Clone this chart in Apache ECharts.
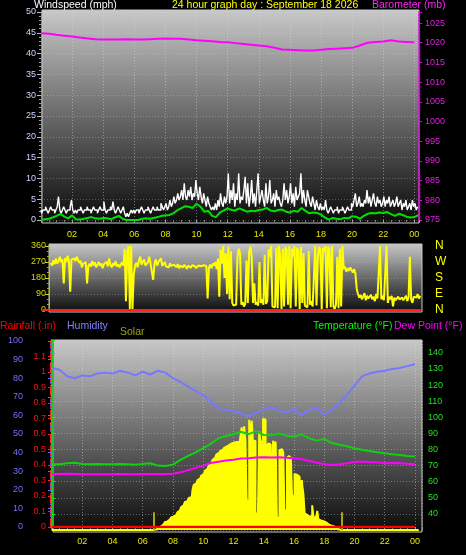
<!DOCTYPE html>
<html><head><meta charset="utf-8">
<script src="https://cdn.jsdelivr.net/npm/echarts@6/dist/echarts.min.js"></script>
<style>html,body{margin:0;padding:0;background:#000;}#c{width:466px;height:555px;}</style>
</head><body><div id="c"></div>
<script>
// ---- DATA (hours of day) ----
// wind gust (mph), every 5 min from 00:00
const gust = [
2.4,1.6,2.4,2.4,3.2,2.4,1.6,2.4,3.2,2.4,2.4,1.6,
2.4,3.2,5.6,2.4,1.6,2.4,3.2,2.4,1.6,2.4,2.4,3.2,
4.8,2.4,1.6,2.4,1.6,2.4,2.4,3.2,2.4,1.6,2.4,2.4,
3.2,2.4,2.4,1.6,2.4,3.2,2.4,2.4,1.6,2.4,3.2,2.4,
2.4,4.4,2.4,1.6,2.4,2.4,3.2,2.4,4.4,2.4,1.6,2.4,
3.2,2.4,1.6,2.4,3.2,1.6,0.8,1.6,0.8,1.6,2.4,1.6,
2.4,1.6,2.4,2.4,1.6,2.4,3.2,2.4,1.6,2.4,2.4,3.2,
2.4,1.6,2.4,3.2,2.4,2.4,3.2,2.4,2.4,4.0,3.2,2.4,
3.2,4.0,2.4,3.2,4.8,3.2,4.0,5.6,4.0,4.8,6.4,4.8,
5.6,7.2,4.8,8.8,5.6,4.8,7.2,5.6,8.0,4.8,6.4,5.6,
9.6,6.4,4.8,8.0,5.6,4.0,6.4,4.8,3.2,5.6,4.0,3.2,
2.4,3.2,2.4,4.0,2.4,4.8,3.2,6.4,4.0,3.2,5.6,4.0,
5.6,11.2,4.0,7.2,4.8,8.8,3.2,6.4,4.8,11.2,4.0,5.6,
4.8,7.2,10.4,4.0,8.8,3.2,5.6,9.6,4.0,6.4,3.2,7.2,
11.2,4.0,5.6,7.2,4.8,3.2,8.8,4.0,5.6,9.6,4.0,4.8,
6.4,3.2,7.2,4.8,5.6,4.0,3.2,4.8,8.8,4.8,7.2,4.0,
5.6,8.8,4.0,6.4,3.2,8.0,4.8,5.6,6.4,11.2,4.0,7.2,
4.8,3.2,7.2,5.6,4.0,3.2,5.6,4.0,2.4,4.8,3.2,2.4,
4.0,2.4,3.2,2.4,4.8,2.4,1.6,2.4,3.2,2.4,1.6,2.4,
2.4,3.2,1.6,2.4,2.4,3.2,2.4,1.6,2.4,3.2,2.4,2.4,
4.0,3.2,4.8,6.4,3.2,4.0,5.6,3.2,4.0,3.2,4.8,4.0,
7.2,4.0,5.6,3.2,4.8,6.4,4.0,3.2,5.6,4.0,4.8,3.2,
4.0,5.6,3.2,4.8,4.0,5.6,3.2,4.0,4.8,3.2,4.0,5.6,
3.2,4.0,4.8,2.4,4.0,3.2,4.8,2.4,3.2,4.0,2.4,4.8,
3.2,4.0,2.4,3.2];
// average wind (mph), every 15 min from 00:00
const windAvg = [
0.0,0.2,0.3,0.6, 1.0,1.5,0.8,0.4, 1.1,0.2,0.1,0.3, 0.5,0.7,0.4,0.3,
0.5,0.4,0.2,0.6, 1.0,0.3,0.0,0.0, 0.0,0.0,0.3,0.4, 0.3,0.5,0.7,1.0,
1.1,1.2,1.6,2.3, 2.8,3.3,3.2,2.9, 3.9,3.2,2.0,2.2, 1.0,0.7,1.8,2.3,
2.8,2.4,2.3,2.8, 2.4,2.0,2.2,2.1, 2.4,2.5,2.9,2.3, 2.1,2.4,2.5,2.0,
1.8,2.2,2.0,2.9, 2.2,1.6,1.8,1.7, 1.3,0.6,0.1,0.5, 0.3,0.2,0.5,0.4,
0.9,0.8,0.3,1.0, 1.5,1.7,1.6,1.8, 1.7,1.9,1.4,1.0, 1.5,1.2,0.8,0.6,
0.7,1.2];
// barometer (mb), every 30 min from 00:00
const baro = [
1022.4,1022.3,1022.0,1021.8,1021.6,1021.3,1021.1,1020.9,1020.8,1020.8,
1020.8,1020.9,1020.8,1020.8,1020.9,1021.0,1021.1,1021.0,1021.0,1020.8,
1020.6,1020.5,1020.4,1020.2,1020.1,1019.9,1019.7,1019.5,1019.3,1019.1,
1018.7,1018.3,1018.2,1018.1,1018.0,1018.0,1018.2,1018.4,1018.5,1018.6,
1018.7,1019.3,1020.0,1020.2,1020.3,1020.6,1020.3,1020.2,1020.1];
// wind direction (deg), every 5 min from 00:30
const dirStart = 0.5;
const windDir = [
265,250,280,258,290,262,
275,300,268,285,150,292,270,305,280,103,285,295,
290,275,300,282,265,278,240,260,255,270,150,248,
260,245,275,250,268,240,255,270,248,262,235,258,
250,272,245,290,255,240,262,250,275,245,258,240,
255,268,250,345,50,330,360,5,360,0,200,250,
265,240,280,300,255,262,285,250,245,270,300,258,
268,170,260,285,250,270,262,290,248,255,270,245,
252,240,262,248,238,255,245,242,258,235,250,245,
240,255,248,232,250,245,238,252,242,248,236,245,
250,240,246,238,252,244,248,65,240,255,235,262,
250,270,230,290,75,340,260,360,180,320,90,355,
60,330,40,25,35,30,300,345,320,30,45,20,
35,280,40,330,355,300,40,150,30,45,25,270,
40,60,30,310,35,50,340,300,360,20,30,15,
350,10,360,300,5,345,20,355,340,30,360,10,
345,300,360,20,350,330,5,355,40,320,25,20,
15,330,30,50,20,10,360,25,300,355,340,5,
350,330,360,10,355,340,15,360,20,5,30,300,
10,345,20,360,230,245,215,235,220,240,225,210,
230,205,120,90,70,85,60,75,95,55,80,65,
70,85,60,75,50,90,65,70,360,60,80,55,
65,360,40,75,60,80,20,70,55,65,75,60,
60,70,55,65,80,50,70,300,60,40,75,85,
70,90,65,80];
const compassLabels = ['N','E','S','W','N'];
// humidity (%), temperature and dew point (°F), every 30 min from 00:00
const humidity = [
85.5,84.5,81,80,81.5,81,82.5,83,82.5,84,83,81.5,83.5,82,84,83,80,78,75.5,73,
71,67.5,63.5,63,62.5,61,59.5,61.5,63,64.5,62.5,61.5,63.5,60,63,64,60.5,63,66.5,71,
76,81,82.5,83.5,84,85,85.5,86.5,87.5];
const temperature = [
70.9,70.9,71.5,71.8,71.0,70.8,71.0,70.9,70.8,71.0,70.9,70.6,71.0,71.5,70.0,69.8,70.6,73.5,76.0,78.2,
80.8,83.5,87.0,88.4,89.5,91.0,89.5,91.4,89.0,88.8,90.0,88.6,88.0,89.4,87.0,85.5,86.6,84.0,83.0,82.0,
80.8,79.8,79.0,78.3,77.6,77.0,76.6,76.0,75.6];
const dewPoint = [
64.8,64.8,65.0,64.8,64.6,64.6,64.7,64.6,64.6,64.8,64.7,64.6,64.8,64.8,64.8,64.8,65.0,65.8,67.2,68.6,
70.0,71.6,72.4,73.1,73.6,74.4,74.6,75.0,75.2,75.0,75.2,74.8,74.5,74.0,73.0,71.8,71.0,70.4,70.8,71.5,
72.3,72.5,72.2,72.0,71.5,71.6,71.5,71.2,70.9];
// rainfall (in), hourly
const rainfall = [0,0,0,0,0,0,0,0,0,0,0,0,0,0,0,0,0,0,0,0,0,0,0,0,0];
// solar, every 5 min from 06:30 (zero at night)
const solarStart = 6.5;
const solar = [
0,0,0,0,2,5,
10,14,19,24,29,35,41,45,50,55,60,66,
70,74,78,85,93,102,112,121,130,140,148,152,
160,168,172,150,210,238,245,255,262,270,278,286,
294,302,312,322,332,342,352,362,370,380,390,398,
405,410,416,421,426,432,438,442,447,451,455,458,
458,460,462,463,464,465,466,540,466,545,468,155,
150,580,470,575,465,470,90,85,120,518,460,470,
585,580,45,440,455,450,458,200,470,430,465,60,
70,420,425,415,410,104,100,380,390,370,385,180,
180,295,290,300,280,250,260,240,190,88,80,75,
72,70,74,130,68,70,65,100,55,50,48,46,
44,40,36,33,30,27,24,20,16,12,8,5,
3,1,0,0,0,0,0];
const solarNight = [[0,0],[24.25,0]];
const sunMarks = [[6.75,93],[19.15,93]];

// ---- CHART ----
const F = '"Liberation Sans", Arial, sans-serif';
const T = (arr, start, step) => arr.map((v,i)=>[+(start+i*step).toFixed(4), v]);
const step5 = 5/60;
const xFmt = v => { const r = Math.round(v); return (Math.abs(v-r)<1e-6 && r>0 && r%2===0) ? String(r%24).padStart(2,'0') : ''; };
const grad = () => new echarts.graphic.LinearGradient(0,0,0,1,[{offset:0,color:'#c8c8c8'},{offset:1,color:'#0a0a0a'}]);
const dotted = (c,o) => ({show:true,lineStyle:{color:c,opacity:o,type:[1,2],width:1}});

const chart = echarts.init(document.getElementById('c'), null, {renderer:'canvas'});
const xCommon = (gi, max, showLab) => ({
  gridIndex:gi, type:'value', min:0, max:max, interval:2,
  axisLine:{show:false},
  axisTick:{show:showLab,length:3,lineStyle:{color:'#a0a0a0'}},
  minorTick:{show:showLab,splitNumber:4,length:2,lineStyle:{color:'#808080'}},
  axisLabel:{show:showLab,color:'#e8e800',fontSize:9,fontFamily:F,margin:10,formatter:xFmt,showMaxLabel:false,showMinLabel:false},
  splitLine: showLab ? dotted('#e0e0e0',0.45) : {show:false}
});

const option = {
  backgroundColor:'#000',
  animation:false,
  grid:[
    {left:41, top:12, width:378, height:208},
    {left:43, top:246, width:378, height:64},
    {left:52, top:341, width:370, height:186},
    {left:52, top:340, width:370, height:190}
  ],
  xAxis:[ xCommon(0,24.3,true), xCommon(1,24.3,false), xCommon(2,24.47,true), xCommon(3,24.47,false) ],
  yAxis:[
    {gridIndex:0, type:'value', position:'left', min:0, max:50, interval:5,
     axisLine:{show:true,lineStyle:{color:'#909090',type:'dotted'}},
     axisTick:{show:true,length:4,lineStyle:{color:'#c0c0c0'}},
     minorTick:{show:true,splitNumber:5,length:2,lineStyle:{color:'#a0a0a0'}},
     axisLabel:{color:'#c8d8ff',fontSize:9,fontFamily:F,margin:5},
     splitLine:dotted('#e0e0e0',0.3)},
    {gridIndex:0, type:'value', position:'right', min:975, max:1027.8, interval:5,
     axisLine:{show:true,lineStyle:{color:'#d000d0',type:'dotted',width:1.5}},
     axisTick:{show:true,length:3,lineStyle:{color:'#e000e0'}},
     minorTick:{show:true,splitNumber:5,length:1.5,lineStyle:{color:'#c000c0'}},
     axisLabel:{color:'#e020e0',fontSize:9,fontFamily:F,margin:6,showMaxLabel:false,
       formatter:v=>(Math.abs(v%5)<1e-6?String(v):'')},
     splitLine:{show:false}},
    {gridIndex:1, type:'value', position:'left', offset:-6, min:0, max:360, interval:90,
     axisLine:{show:true,lineStyle:{color:'#c8c800',type:'dotted'}},
     axisTick:{show:true,length:4,lineStyle:{color:'#d8d800'}},
     minorTick:{show:true,splitNumber:3,length:2,lineStyle:{color:'#b0b000'}},
     axisLabel:{color:'#d8d800',fontSize:9,fontFamily:F,margin:3},
     splitLine:dotted('#c0c0c0',0.35)},
    {gridIndex:1, type:'value', position:'right', min:0, max:360, interval:90,
     axisLine:{show:false}, axisTick:{show:false}, splitLine:{show:false},
     axisLabel:{color:'#ffff00',fontSize:12,fontFamily:F,margin:14,formatter:v=>compassLabels[Math.round(v/90)]||''}},
    {gridIndex:2, type:'value', position:'left', offset:22, min:0, max:100, interval:10,
     axisLine:{show:true,lineStyle:{color:'#6868ff',width:2.5}},
     axisTick:{show:true,length:4,lineStyle:{color:'#6868ff'}},
     minorTick:{show:true,splitNumber:5,length:2,lineStyle:{color:'#6868ff'}},
     axisLabel:{color:'#7070ff',fontSize:9,fontFamily:F,margin:7},
     splitLine:{show:false}},
    {gridIndex:2, type:'value', position:'left', offset:1, min:0, max:1.2, interval:0.1,
     axisLine:{show:true,lineStyle:{color:'#ff2020',type:'dashed',width:2}},
     axisTick:{show:true,length:3,lineStyle:{color:'#ff2020'}},
     axisLabel:{color:'#ff1010',fontSize:9,fontFamily:F,margin:5,showMaxLabel:false,
       formatter:v=>String(+v.toFixed(1))},
     splitLine:{show:false}},
    {gridIndex:3, type:'value', position:'right', min:30, max:148, interval:10,
     axisLine:{show:true,lineStyle:{color:'#10d010',type:'dotted',width:2}},
     axisTick:{show:true,length:3,lineStyle:{color:'#20e020'}},
     minorTick:{show:true,splitNumber:2,length:2,lineStyle:{color:'#20c020'}},
     axisLabel:{color:'#20e020',fontSize:9,fontFamily:F,margin:6,
       formatter:v=>(v>=40&&v<=140&&Math.abs(v%10)<1e-6)?String(v):''},
     splitLine:dotted('#d0d0d0',0.4)},
    {gridIndex:3, type:'value', position:'right', min:0, max:1000, show:false}
  ],
  series:[
    {type:'line', name:'Gust', xAxisIndex:0, yAxisIndex:0, data:T(gust,0,step5), step:'middle',
     symbol:'none', lineStyle:{color:'#ffffff',width:1.4}, z:3},
    {type:'line', name:'Wind', xAxisIndex:0, yAxisIndex:0, data:T(windAvg,0,0.25),
     symbol:'none', lineStyle:{color:'#00e000',width:2}, z:4},
    {type:'line', name:'Barometer', xAxisIndex:0, yAxisIndex:1, data:T(baro,0,0.5),
     symbol:'none', lineStyle:{color:'#ff00ff',width:2}, z:4},
    {type:'line', name:'Direction', xAxisIndex:1, yAxisIndex:2, data:T(windDir,dirStart,step5),
     symbol:'none', lineStyle:{color:'#ffff00',width:2}, z:3,
     markLine:{silent:true, symbol:'none', label:{show:false}, data:[{yAxis:0}],
       lineStyle:{color:'#ff2020',width:2,type:'solid'}}},
    {type:'line', name:'Solar', xAxisIndex:3, yAxisIndex:7,
     data:[solarNight[0], ...T(solar,solarStart,step5), solarNight[1]], step:'middle',
     symbol:'none', lineStyle:{color:'#ffff00',width:2}, areaStyle:{color:'#ffff00',opacity:1}, z:2,
     markLine:{silent:true, symbol:'none', label:{show:false},
       lineStyle:{color:'#a8a800',width:2,type:'solid'},
       data:sunMarks.map(m=>[{coord:[m[0],0]},{coord:[m[0],m[1]]}])}},
    {type:'line', name:'Rainfall', xAxisIndex:2, yAxisIndex:5, data:T(rainfall,0,1),
     symbol:'none', lineStyle:{color:'#ff0000',width:2.5}, z:5},
    {type:'line', name:'Humidity', xAxisIndex:2, yAxisIndex:4, data:T(humidity,0,0.5),
     symbol:'none', lineStyle:{color:'#7878ff',width:2}, z:4},
    {type:'line', name:'Temperature', xAxisIndex:3, yAxisIndex:6, data:T(temperature,0,0.5),
     symbol:'none', lineStyle:{color:'#10d010',width:2}, z:4},
    {type:'line', name:'Dew Point', xAxisIndex:3, yAxisIndex:6, data:T(dewPoint,0,0.5),
     symbol:'none', lineStyle:{color:'#ff00ff',width:2}, z:4}
  ],
  graphic:{elements:[
    {type:'rect', silent:true, z:-10, shape:{x:42,y:10,width:377,height:213}, style:{fill:grad(),stroke:'#c8c8c8',lineWidth:1}},
    {type:'rect', silent:true, z:-10, shape:{x:49,y:244,width:373,height:68}, style:{fill:grad(),stroke:'#c8c8c8',lineWidth:1}},
    {type:'rect', silent:true, z:-10, shape:{x:53,y:340,width:369,height:192}, style:{fill:grad(),stroke:'#c8c8c8',lineWidth:1}},
    {type:'text', z:100, x:34, y:5.6, style:{text:'Windspeed (mph)', fill:'#ffffff', font:'10.5px '+F, verticalAlign:'middle', textVerticalAlign:'middle'}},
    {type:'text', z:100, x:172, y:5.6, style:{text:'24 hour graph day : September 18 2026', fill:'#ffff00', font:'10.5px '+F, verticalAlign:'middle', textVerticalAlign:'middle'}},
    {type:'text', z:100, x:372, y:5.6, style:{text:'Barometer (mb)', fill:'#ff20ff', font:'10.5px '+F, verticalAlign:'middle', textVerticalAlign:'middle'}},
    {type:'text', z:100, x:0, y:326.5, style:{text:'Rainfall (.in)', fill:'#ff0000', font:'10.5px '+F, verticalAlign:'middle', textVerticalAlign:'middle'}},
    {type:'text', z:100, x:67, y:326.5, style:{text:'Humidity', fill:'#8080ff', font:'10.5px '+F, verticalAlign:'middle', textVerticalAlign:'middle'}},
    {type:'text', z:100, x:120, y:332.5, style:{text:'Solar', fill:'#a0a020', font:'10.5px '+F, verticalAlign:'middle', textVerticalAlign:'middle'}},
    {type:'text', z:100, x:313, y:326.5, style:{text:'Temperature (°F)', fill:'#00ff00', font:'10.5px '+F, verticalAlign:'middle', textVerticalAlign:'middle'}},
    {type:'text', z:100, x:394, y:326.5, style:{text:'Dew Point (°F)', fill:'#ff00ff', font:'10.5px '+F, verticalAlign:'middle', textVerticalAlign:'middle'}}
  ]}
};
chart.setOption(option);
</script>
</body></html>
